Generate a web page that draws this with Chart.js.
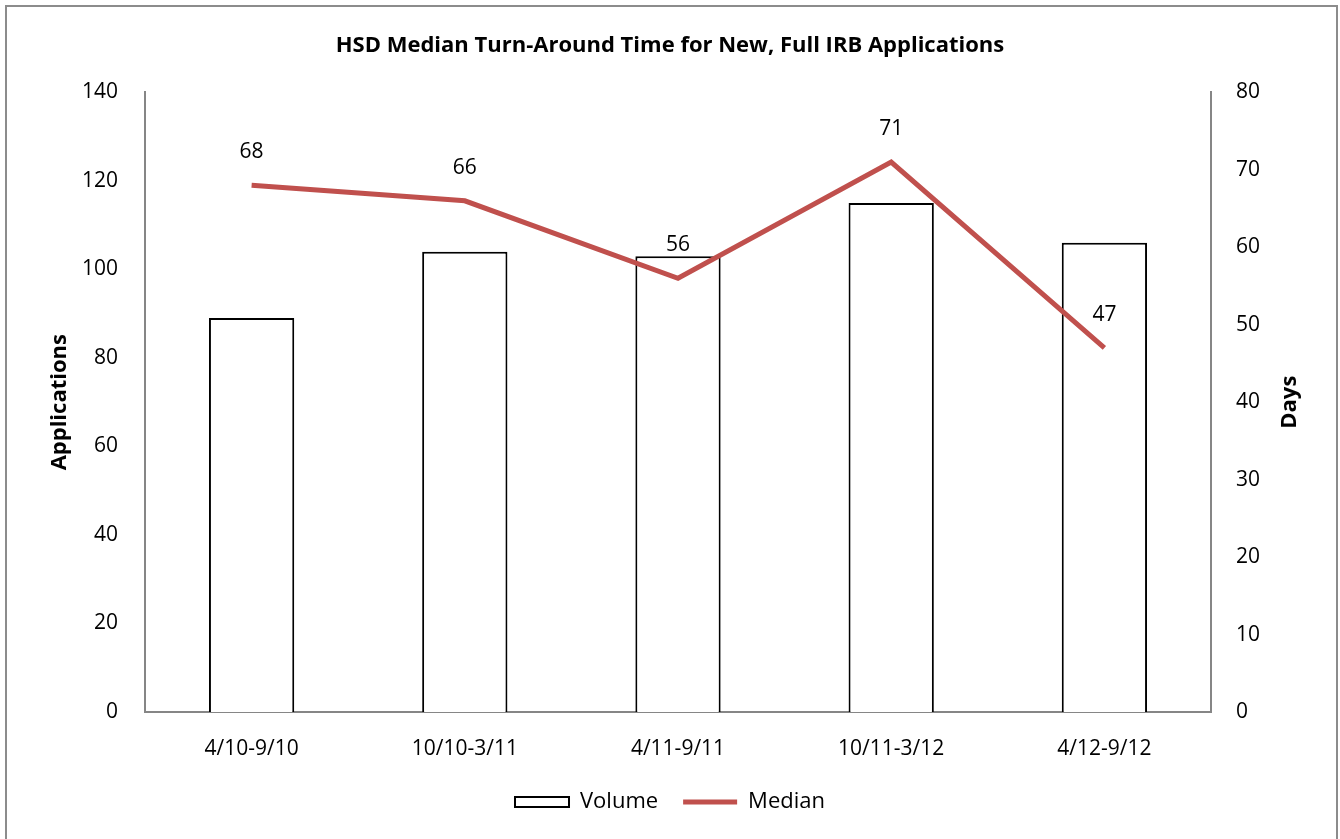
<!DOCTYPE html>
<html>
<head>
<meta charset="utf-8">
<script src="https://cdn.jsdelivr.net/npm/chart.js@4"></script>
<style>
	body { margin: 0; background: #fff; }
	#wrap { position: relative; width: 1340px; height: 839px; overflow: hidden; }
	#frame { position: absolute; left: 5px; top: 5px; width: 1329px; height: 900px; border: 2px solid #8c8c8c; pointer-events: none; }
</style>
</head>
<body>
<div id="wrap">
	<canvas id="irbChart" width="1340" height="839"></canvas>
	<div id="frame"></div>
</div>
<script>
'use strict';
const periods = ['4/10-9/10', '10/10-3/11', '4/11-9/11', '10/11-3/12', '4/12-9/12'];
const volume = [89, 104, 103, 115, 106];
const median = [68, 66, 56, 71, 47];
const appTicks = [0, 20, 40, 60, 80, 100, 120, 140];
const dayTicks = [0, 10, 20, 30, 40, 50, 60, 70, 80];

const FONT = '"Open Sans", "Liberation Sans", sans-serif';
const axisGrey = '#868686';
const lineRed = '#C0504D';

// draws the value labels above the median line and the right axis title
const labelPlugin = {
	id: 'medianLabels',
	afterDatasetsDraw(chart) {
		const ctx = chart.ctx;
		const meta = chart.getDatasetMeta(1);
		ctx.save();
		ctx.font = '21px ' + FONT;
		ctx.fillStyle = '#000';
		ctx.textAlign = 'center';
		ctx.textBaseline = 'middle';
		meta.data.forEach((pt, i) => {
			ctx.fillText(String(median[i]), pt.x, pt.y - 33);
		});
		ctx.restore();
	},
	afterDraw(chart) {
		const ctx = chart.ctx;
		const area = chart.chartArea;
		ctx.save();
		ctx.font = 'bold 22px ' + FONT;
		ctx.fillStyle = '#000';
		ctx.textAlign = 'center';
		ctx.textBaseline = 'middle';
		ctx.translate(1290, (area.top + area.bottom) / 2);
		ctx.rotate(-Math.PI / 2);
		ctx.fillText('Days', 0, 0);
		ctx.restore();
	}
};

new Chart(document.getElementById('irbChart'), {
	type: 'bar',
	data: {
		labels: periods,
		datasets: [
			{
				label: 'Volume',
				data: volume,
				yAxisID: 'y',
				backgroundColor: '#fff',
				borderColor: '#000',
				borderWidth: 2,
				barPercentage: 0.8,
				categoryPercentage: 0.5,
				pointStyle: 'rect',
				order: 1,
			},
			{
				type: 'line',
				label: 'Median',
				data: median,
				yAxisID: 'y1',
				borderColor: lineRed,
				backgroundColor: lineRed,
				borderWidth: 5,
				pointRadius: 0,
				tension: 0,
				pointStyle: 'line',
				order: 0,
			},
		],
	},
	options: {
		responsive: false,
		animation: false,
		layout: { padding: { top: 0, left: 0, right: 0, bottom: 16 } },
		plugins: {
			tooltip: { enabled: false },
			title: {
				display: true,
				text: 'HSD Median Turn-Around Time for New, Full IRB Applications',
				color: '#000',
				font: { family: FONT, size: 22, weight: 'bold' },
				padding: { top: 33, bottom: 33 },
			},
			legend: {
				position: 'bottom',
				labels: {
					color: '#000',
					font: { family: FONT, size: 22 },
					usePointStyle: true,
					pointStyleWidth: 54,
					boxHeight: 10,
					padding: 25,
					sort: (a, b) => a.datasetIndex - b.datasetIndex,
				},
			},
		},
		scales: {
			x: {
				grid: { display: false, drawTicks: false },
				border: { display: true, color: axisGrey, width: 2 },
				ticks: { color: '#000', font: { family: FONT, size: 21 }, padding: 24 },
				afterFit(scale) { scale.height = 54; },
			},
			y: {
				position: 'left',
				min: 0,
				max: 140,
				afterBuildTicks(scale) { scale.ticks = appTicks.map(v => ({ value: v })); },
				grid: { display: false, drawTicks: false },
				border: { display: true, color: axisGrey, width: 2 },
				ticks: { color: '#000', font: { family: FONT, size: 21 }, padding: 27 },
				title: {
					display: true,
					text: 'Applications',
					color: '#000',
					font: { family: FONT, size: 22, weight: 'bold' },
					padding: { top: 47, bottom: 0 },
				},
				afterFit(scale) { scale.width = 145; },
			},
			y1: {
				position: 'right',
				min: 0,
				max: 80,
				afterBuildTicks(scale) { scale.ticks = dayTicks.map(v => ({ value: v })); },
				grid: { display: false, drawTicks: false },
				border: { display: true, color: axisGrey, width: 2 },
				ticks: { color: '#000', font: { family: FONT, size: 21 }, padding: 25 },
				afterFit(scale) { scale.width = 129; },
			},
		},
	},
	plugins: [labelPlugin],
});
</script>
</body>
</html>
